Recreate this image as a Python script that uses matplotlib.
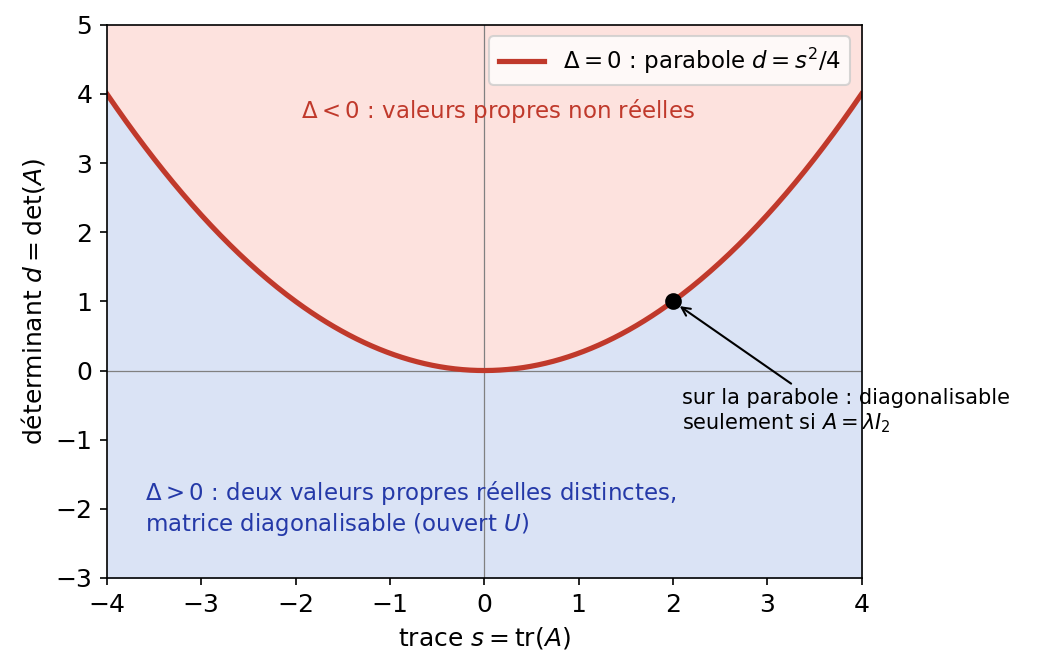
import numpy as np
import matplotlib
matplotlib.use("Agg")
import matplotlib.pyplot as plt

s_min, s_max = -4, 4
d_min, d_max = -3, 5
point = (2, 1)
xticks = [-4, -3, -2, -1, 0, 1, 2, 3, 4]
yticks = [-3, -2, -1, 0, 1, 2, 3, 4, 5]

fig = plt.figure(figsize=(6.92, 4.48), dpi=150)
ax = fig.add_axes([0.103, 0.140, 0.727, 0.823])
s = np.linspace(s_min, s_max, 400)
d = s**2 / 4
ax.fill_between(s, d, d_max, color="#fde2de")
ax.fill_between(s, d_min, d, color="#dae3f5")
ax.axhline(0, color="gray", lw=0.6)
ax.axvline(0, color="gray", lw=0.6)
ax.plot(s, d, color="#c0392b", lw=2.5, label=r"$\Delta=0$ : parabole $d=s^2/4$")
ax.plot(*point, "o", color="black", ms=7, zorder=5)
ax.annotate("sur la parabole : diagonalisable\nseulement si $A=\\lambda I_2$",
            xy=point, xytext=(2.1, -0.25), fontsize=10, va="top",
            arrowprops=dict(arrowstyle="->", color="black", lw=1, shrinkA=0, shrinkB=4,
                            relpos=(0.35, 1.0)))
ax.text(0.15, 3.75, r"$\Delta<0$ : valeurs propres non réelles", color="#c0392b",
        fontsize=11, ha="center", va="center")
ax.text(-3.6, -2.0, "$\\Delta>0$ : deux valeurs propres réelles distinctes,\nmatrice diagonalisable (ouvert $U$)",
        color="#2439a8", fontsize=11, va="center")
ax.set_xlim(s_min, s_max)
ax.set_ylim(d_min, d_max)
ax.set_xticks(xticks)
ax.set_yticks(yticks)
ax.tick_params(labelsize=12)
ax.set_xlabel(r"trace $s=\mathrm{tr}(A)$", fontsize=12)
ax.set_ylabel(r"déterminant $d=\mathrm{det}(A)$", fontsize=12)
ax.legend(loc="upper right", fontsize=11)
fig.savefig("out.png", dpi=150)
